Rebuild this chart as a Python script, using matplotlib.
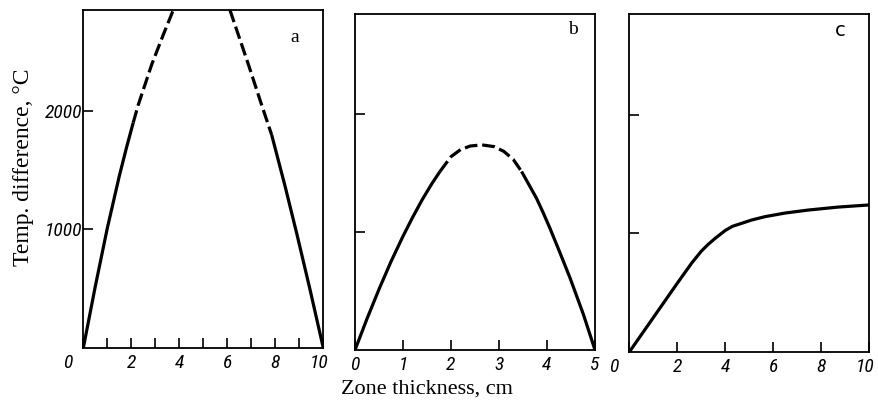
import matplotlib
matplotlib.use('Agg')
import matplotlib.pyplot as plt
import matplotlib.transforms as mtransforms

matplotlib.rcParams['font.family'] = 'serif'
matplotlib.rcParams['font.serif'] = ['Liberation Serif', 'DejaVu Serif']

# (a) zone 10 cm, symmetric branches, dashed near the top
a_left_x = [0, 0.5, 1.0, 1.5, 1.8, 2.08]
a_left_y = [0, 520, 1010, 1450, 1690, 1900]
a_left_dash_x = [2.08, 2.29, 2.85, 3.33, 3.75]
a_left_dash_y = [1900, 2050, 2390, 2640, 2850]
a_right_dash_x = [6.11, 6.88, 7.43, 7.85]
a_right_dash_y = [2850, 2390, 2050, 1796]
a_right_x = [7.85, 8.4, 8.9, 9.45, 10.0]
a_right_y = [1796, 1370, 960, 490, 0]

# (b) zone 5 cm
b_left_x = [0, 0.25, 0.5, 0.75, 1.0, 1.2, 1.4, 1.6, 1.77]
b_left_y = [0, 265, 515, 750, 965, 1125, 1275, 1410, 1514]
b_dash_x = [1.77, 2.0, 2.2, 2.4, 2.64, 2.9, 3.1, 3.3, 3.47]
b_dash_y = [1514, 1640, 1700, 1730, 1740, 1725, 1685, 1615, 1514]
b_right_x = [3.47, 3.62, 3.78, 3.92, 4.06, 4.27, 4.48, 4.76, 5.0]
b_right_y = [1514, 1405, 1288, 1165, 1034, 825, 611, 300, 0]

# (c) zone 10 cm, saturating
c_x = [0, 1.0, 2.0, 2.6, 3.0, 3.3, 3.6, 4.0, 4.3, 4.68, 5.1, 5.65, 6.5, 7.46, 8.7, 10]
c_y = [0, 290, 580, 750, 850, 910, 962, 1025, 1060, 1085, 1113, 1141, 1172, 1197, 1222, 1240]

a_ticks = [0, 2, 4, 6, 8, 10]
b_ticks = [0, 1, 2, 3, 4, 5]
c_ticks = [0, 2, 4, 6, 8, 10]
y_ticks = [1000, 2000]
y_max = 2850

W, H = 879, 408
fig = plt.figure(figsize=(W / 100, H / 100), dpi=100)


def box(left, right, top, bottom):
    return [left / W, 1 - bottom / H, (right - left) / W, (bottom - top) / H]


ax_a = fig.add_axes(box(83.3, 323.3, 10, 348))
ax_b = fig.add_axes(box(355, 595, 14, 350))
ax_c = fig.add_axes(box(629.3, 869.3, 14, 352))

lw = 2.3
dash = (4, 1.5)
tick_font = dict(family=['Roboto Condensed', 'Liberation Sans Narrow', 'DejaVu Sans'],
                 style='italic', stretch='condensed', size=14)

ax_a.plot(a_left_x, a_left_y, color='black', lw=lw, solid_capstyle='butt')
ax_a.plot(a_left_dash_x, a_left_dash_y, color='black', lw=lw, dashes=dash)
ax_a.plot(a_right_dash_x, a_right_dash_y, color='black', lw=lw, dashes=dash)
ax_a.plot(a_right_x, a_right_y, color='black', lw=lw, solid_capstyle='butt')

ax_b.plot(b_left_x, b_left_y, color='black', lw=lw, solid_capstyle='butt')
ax_b.plot(b_dash_x, b_dash_y, color='black', lw=lw, dashes=dash)
ax_b.plot(b_right_x, b_right_y, color='black', lw=lw, solid_capstyle='butt')

ax_c.plot(c_x, c_y, color='black', lw=lw)

panels = [(ax_a, 10, a_ticks, 'a', 0.882, 0.92),
          (ax_b, 5, b_ticks, 'b', 0.908, 0.955),
          (ax_c, 10, c_ticks, 'c', 0.88, 0.952)]
for ax, xmax, ticks, letter, lx, ly in panels:
    ax.set_xlim(0, xmax)
    ax.set_ylim(0, y_max)
    ax.set_xticks(ticks)
    ax.set_xticklabels([str(t) for t in ticks], fontdict=tick_font)
    ax.set_yticks(y_ticks)
    ax.tick_params(direction='in', length=7, width=1.2, pad=4)
    ax.tick_params(axis='y', pad=1)
    for s in ax.spines.values():
        s.set_linewidth(1.3)
    ax.text(lx, ly, letter, transform=ax.transAxes, fontsize=14, ha='center', va='center',
            family='sans-serif' if letter == 'c' else 'serif')

# odd centimetres on the first panel
ax_a.set_xticks([1, 3, 5, 7, 9], minor=True)
ax_a.tick_params(which='minor', direction='in', length=7, width=1.2)

ax_a.set_yticklabels([str(t) for t in y_ticks], fontdict=tick_font)
ax_b.set_yticklabels([])
ax_c.set_yticklabels([])

# the zero label sits left of the corner on panels a and c, the ten a bit inside
for ax in (ax_a, ax_c):
    labels = ax.get_xticklabels()
    for lbl, dx in ((labels[0], -0.16), (labels[-1], -0.04)):
        lbl.set_transform(lbl.get_transform() + mtransforms.ScaledTranslation(dx, 0, fig.dpi_scale_trans))

fig.text(24 / W, 1 - 167 / H, 'Temp. difference, °C', rotation=90, fontsize=17, ha='center', va='center')
fig.text(427 / W, 1 - 389 / H, 'Zone thickness, cm', fontsize=16, ha='center', va='center')

fig.savefig('out.png', dpi=100)
